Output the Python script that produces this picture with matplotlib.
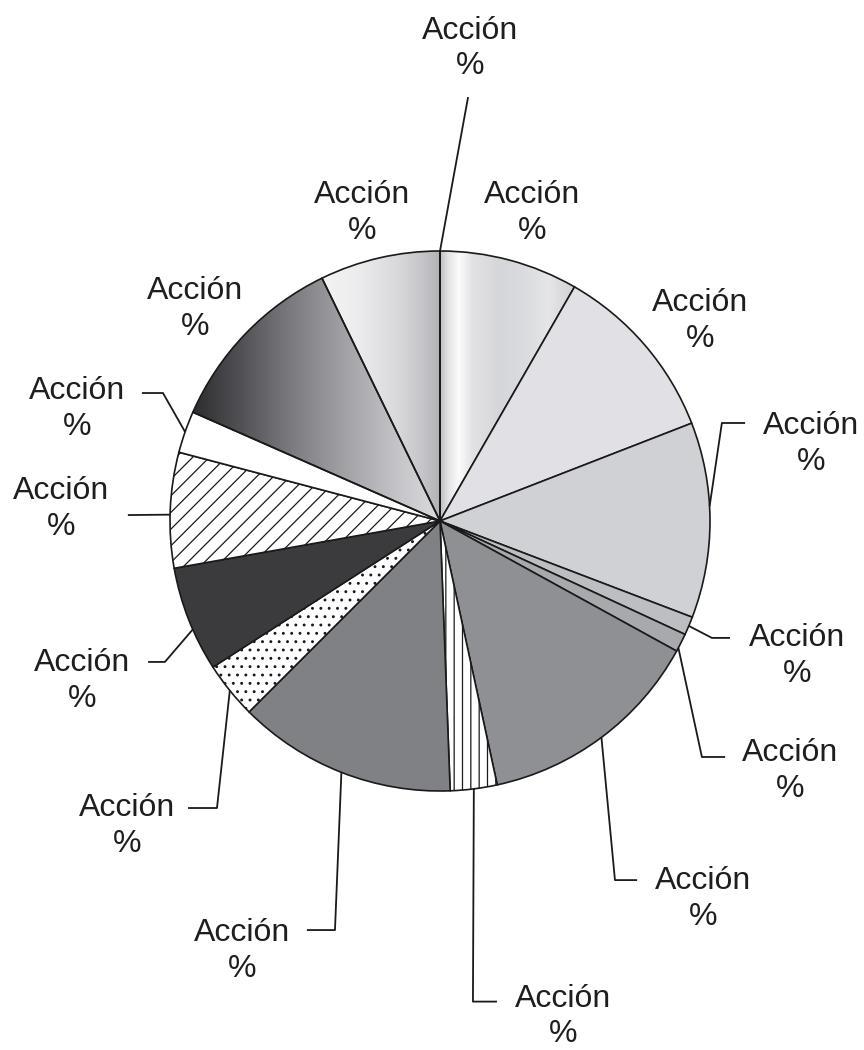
import numpy as np
import matplotlib
matplotlib.use("Agg")
import matplotlib.pyplot as plt
from matplotlib.colors import LinearSegmentedColormap

# ---------------- data ----------------
labels = ["Acción\n%"] * 15
# shares (%) clockwise from 12 o'clock; first entry is the zero-width slice at the top
shares = [0.0, 8.3, 10.8, 11.7, 1.1, 1.1, 13.6, 2.8, 13.1, 3.4, 6.3, 6.9, 2.5, 11.2, 7.2]

# ---------------- style ----------------
fills = ["none", "none", "#e1e1e5", "#cfd1d4", "#bcbec1", "#a7a9ac", "#8e9094",
         "white", "#7f8184", "white", "#3b3b3d", "white", "white", "none", "none"]
hatches = [None, None, None, None, None, None, None, "||", None, "..", None, "//", None, None, None]
# gradient stops: (x position in pie units, colour)
gradients = {
    1: [(0.0, "#bdbec2"), (0.03, "#e4e4e7"), (0.07, "#fbfbfb"), (0.12, "#e2e2e5"),
        (0.22, "#d5d6d9"), (0.33, "#dcdde0"), (0.40, "#e6e6e8"), (0.50, "#cfd0d4")],
    13: [(-0.93, "#2a2a2c"), (-0.75, "#4f4f53"), (-0.55, "#7c7c80"), (-0.35, "#a3a3a7"),
         (-0.15, "#c6c6ca"), (0.0, "#dcdcde")],
    14: [(-0.45, "#f4f4f4"), (-0.30, "#ececee"), (-0.15, "#d8d8db"), (-0.05, "#c2c2c6"),
         (0.0, "#b2b2b6")],
}

label_xy = [(0.111, 1.750), (0.341, 1.140), (0.963, 0.740), (1.374, 0.285),
            (1.322, -0.500), (1.296, -0.926), (0.974, -1.400), (0.456, -1.836),
            (-0.733, -1.593), (-1.159, -1.130), (-1.326, -0.593), (-1.404, 0.044),
            (-1.344, 0.415), (-0.907, 0.785), (-0.289, 1.140)]
leaders = {
    0: [(0.104, 1.570)],
    3: [(1.130, 0.363), (1.044, 0.363)],
    4: [(1.074, -0.433), (1.007, -0.433)],
    5: [(1.056, -0.874), (0.970, -0.874)],
    6: [(0.730, -1.330), (0.648, -1.330)],
    7: [(0.211, -1.780), (0.122, -1.780)],
    8: [(-0.493, -1.515), (-0.389, -1.515)],
    9: [(-0.933, -1.063), (-0.826, -1.063)],
    10: [(-1.081, -0.522), (-1.019, -0.522)],
    11: [(-1.156, 0.022)],
    12: [(-1.104, 0.474), (-1.026, 0.474)],
}
anchor_frac = {3: 0.57, 5: 0.2, 10: 0.6, 11: 0.54}

plt.rcParams["hatch.color"] = "#1a1a1a"
plt.rcParams["hatch.linewidth"] = 0.9

fig = plt.figure(figsize=(8.64, 10.5), dpi=100)
ax = fig.add_axes([0, 0, 1, 1])

face = [f if f != "none" else "white" for f in fills]
wedges, _ = ax.pie(shares, startangle=90, counterclock=False, radius=1.0,
                   center=(0, 0), colors=face, frame=False,
                   wedgeprops=dict(edgecolor="#1a1a1a", linewidth=1.2))

for i, w in enumerate(wedges):
    w.set_zorder(2)
    if hatches[i]:
        w.set_hatch(hatches[i])
    if i in gradients:
        w.set_facecolor("none")
        stops = gradients[i]
        pos = [(x + 1) / 2 for x, _ in stops]
        pos = [(p - pos[0]) / (pos[-1] - pos[0]) for p in pos]
        cmap = LinearSegmentedColormap.from_list("g%d" % i, list(zip(pos, [c for _, c in stops])))
        x0, x1 = stops[0][0], stops[-1][0]
        grad = np.linspace(0, 1, 256).reshape(1, -1)
        im = ax.imshow(grad, extent=(x0, x1, -1, 1), cmap=cmap, vmin=0, vmax=1,
                       aspect="auto", interpolation="bicubic", zorder=1.5)
        im.set_clip_path(w)

# leader lines
for i, pts in leaders.items():
    w = wedges[i]
    f = anchor_frac.get(i, 0.5)
    ang = np.deg2rad(w.theta1 + f * (w.theta2 - w.theta1))
    edge = (np.cos(ang), np.sin(ang))
    xs = [p[0] for p in pts] + [edge[0]]
    ys = [p[1] for p in pts] + [edge[1]]
    ax.plot(xs, ys, color="#1a1a1a", lw=1.3, zorder=3, solid_capstyle="butt")

for i, (x, y) in enumerate(label_xy):
    ax.text(x, y, labels[i], ha="center", va="center", fontsize=23,
            family="Liberation Sans", color="#1e1e1e", linespacing=1.24, zorder=4)

ax.set_xlim(-440 / 270, (864 - 440) / 270)
ax.set_ylim(-(1050 - 521) / 270, 521 / 270)
ax.set_aspect("equal")
ax.set_axis_off()
fig.savefig("out.png", dpi=100)
